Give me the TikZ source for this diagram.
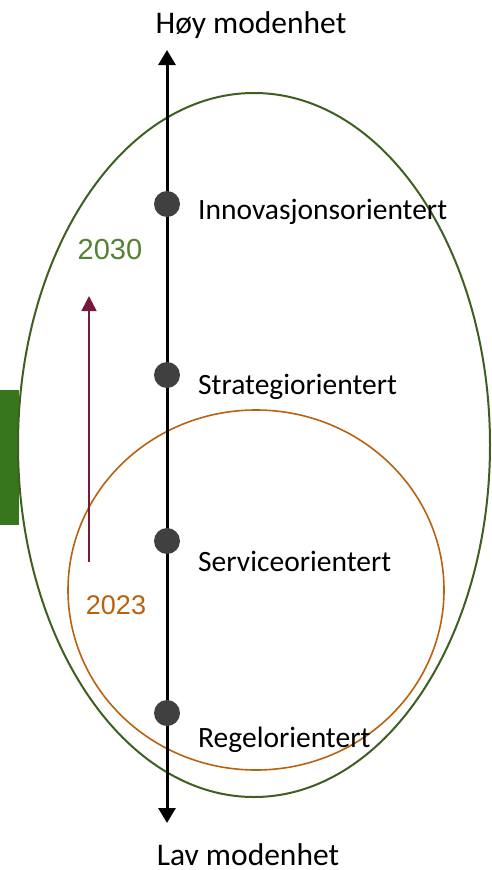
\documentclass[tikz,border=0pt]{standalone}
\usepackage{fontspec}
\setmainfont{Carlito}
\newfontfamily\yearfont{Liberation Sans}
\usetikzlibrary{arrows.meta}

\definecolor{ringgreen}{HTML}{3F5F22}
\definecolor{ringorange}{HTML}{B8620E}
\definecolor{barGreen}{HTML}{38761D}
\definecolor{dotgrey}{HTML}{404040}
\definecolor{trendpurple}{HTML}{75193F}
\definecolor{yeargreen}{HTML}{548235}

\begin{document}
\begin{tikzpicture}[x = 1pt, y = -1pt,
    level/.style = {circle, fill = dotgrey, minimum size = 26pt, inner sep = 0pt},
    stage/.style = {anchor = base west, inner sep = 0pt, font = \fontsize{29.5}{34}\selectfont},
    axislabel/.style = {anchor = base, inner sep = 0pt, font = \fontsize{31.5}{36}\selectfont},
    year/.style = {anchor = base, inner sep = 0pt, font = \yearfont\fontsize{27}{32}\selectfont}]
    \useasboundingbox (0,0) rectangle (491,870);
    % rings
    \fill[barGreen] (0,390) rectangle (19,525);
    \draw[ringgreen, line width = 2pt] (254,445) ellipse [x radius = 236pt, y radius = 352pt];
    \draw[ringorange, line width = 1.6pt] (256,590) ellipse [x radius = 188pt, y radius = 180pt];
    % axis
    \node[axislabel] (hoy) at (251,33) {Høy modenhet};
    \node[axislabel] (lav) at (248,865) {Lav modenhet};
    \coordinate (axtop) at (167,50);
    \coordinate (axbot) at (167,823);
    \draw[line width = 3pt, {Triangle[length = 15pt, width = 17pt]}-{Triangle[length = 15pt, width = 17pt]}] (axbot) -- (axtop);
    % levels
    \node[level] (innov) at (167,204) {};
    \node[level] (strat) at (167,375) {};
    \node[level] (serv) at (167,541) {};
    \node[level] (regel) at (167,713) {};
    \node[stage] (innovtxt) at (198,219) {Innovasjonsorientert};
    \node[stage] (strattxt) at (198,394) {Strategiorientert};
    \node[stage] (servtxt) at (198,571) {Serviceorientert};
    \node[stage] (regeltxt) at (198,747) {Regelorientert};
    % years
    \node[year, text = yeargreen, font = \yearfont\fontsize{29}{34}\selectfont] (y2030) at (110,259) {2030};
    \node[year, text = ringorange] (y2023) at (116,614) {2023};
    \coordinate (trendlow) at (89,562);
    \coordinate (trendhigh) at (89,296);
    \draw[trendpurple, line width = 1.5pt, -{Triangle[length = 15pt, width = 15pt]}] (trendlow) -- (trendhigh);
\end{tikzpicture}
\end{document}
